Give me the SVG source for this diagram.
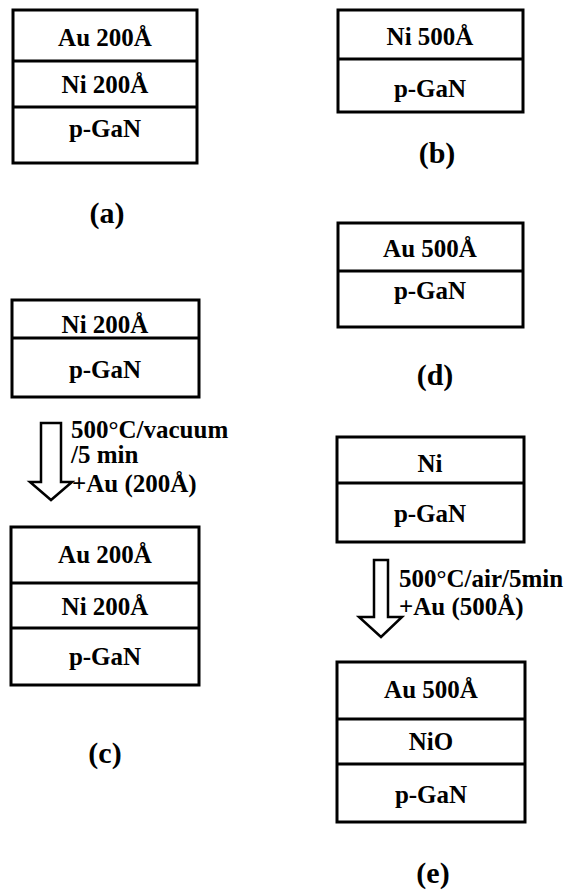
<svg xmlns="http://www.w3.org/2000/svg" width="566" height="890" viewBox="0 0 566 890">
<style>
.box{fill:#fff;stroke:#000;stroke-width:3}
.div{stroke:#000;stroke-width:3}
.t{font-family:"Liberation Serif","Times New Roman",serif;font-weight:bold;font-size:25px;text-anchor:middle;fill:#000}
.p{font-family:"Liberation Serif","Times New Roman",serif;font-weight:bold;font-size:25px;fill:#000}
.lab{font-family:"Liberation Serif","Times New Roman",serif;font-weight:bold;font-size:30px;text-anchor:middle;fill:#000}
.arrow{fill:#fff;stroke:#000;stroke-width:2.5;stroke-linejoin:miter}
</style>
<rect width="566" height="890" fill="#fff"/>
<g id="stack-a">
<rect class="box" x="13" y="10" width="184" height="153"/>
<line class="div" x1="13" y1="61" x2="197" y2="61"/>
<line class="div" x1="13" y1="107" x2="197" y2="107"/>
<text class="t" x="105" y="46">Au 200Å</text>
<text class="t" x="105" y="93">Ni 200Å</text>
<text class="t" x="105" y="137">p-GaN</text>
<text class="lab" x="107" y="223">(a)</text>
</g>
<g id="stack-b">
<rect class="box" x="338" y="10" width="185" height="102"/>
<line class="div" x1="338" y1="59" x2="523" y2="59"/>
<text class="t" x="430" y="45">Ni 500Å</text>
<text class="t" x="430" y="97">p-GaN</text>
<text class="lab" x="437" y="163">(b)</text>
</g>
<g id="stack-d">
<rect class="box" x="338" y="223" width="185" height="104"/>
<line class="div" x1="338" y1="271" x2="523" y2="271"/>
<text class="t" x="430" y="257">Au 500Å</text>
<text class="t" x="430" y="299">p-GaN</text>
<text class="lab" x="435" y="385">(d)</text>
</g>
<g id="stack-c-before">
<rect class="box" x="12" y="300" width="187" height="97"/>
<line class="div" x1="12" y1="338" x2="199" y2="338"/>
<text class="t" x="105" y="333">Ni 200Å</text>
<text class="t" x="105" y="378">p-GaN</text>
</g>
<g id="stack-c-after">
<rect class="box" x="11" y="527" width="188" height="158"/>
<line class="div" x1="11" y1="583" x2="199" y2="583"/>
<line class="div" x1="11" y1="628" x2="199" y2="628"/>
<text class="t" x="105" y="563">Au 200Å</text>
<text class="t" x="105" y="615">Ni 200Å</text>
<text class="t" x="105" y="665">p-GaN</text>
<text class="lab" x="105" y="763">(c)</text>
</g>
<g id="stack-e-before">
<rect class="box" x="337" y="437" width="187" height="105"/>
<line class="div" x1="337" y1="483" x2="524" y2="483"/>
<text class="t" x="430" y="472">Ni</text>
<text class="t" x="430" y="522">p-GaN</text>
</g>
<g id="stack-e-after">
<rect class="box" x="337" y="662" width="188" height="160"/>
<line class="div" x1="337" y1="719" x2="525" y2="719"/>
<line class="div" x1="337" y1="764" x2="525" y2="764"/>
<text class="t" x="431" y="698">Au 500Å</text>
<text class="t" x="431" y="750">NiO</text>
<text class="t" x="431" y="803">p-GaN</text>
<text class="lab" x="433" y="883">(e)</text>
</g>
<g id="connectors">
<polygon class="arrow" points="41,423 61,423 61,482 72,482 51,500 30,482 41,482"/>
<text class="p" x="71" y="438">500°C/vacuum</text>
<text class="p" x="71" y="463">/5 min</text>
<text class="p" x="72" y="492">+Au (200Å)</text>
<polygon class="arrow" points="374,560 388,560 388,617 402,617 381,637 359,617 374,617"/>
<text class="p" x="399" y="587">500°C/air/5min</text>
<text class="p" x="399" y="615">+Au (500Å)</text>
</g>
</svg>
